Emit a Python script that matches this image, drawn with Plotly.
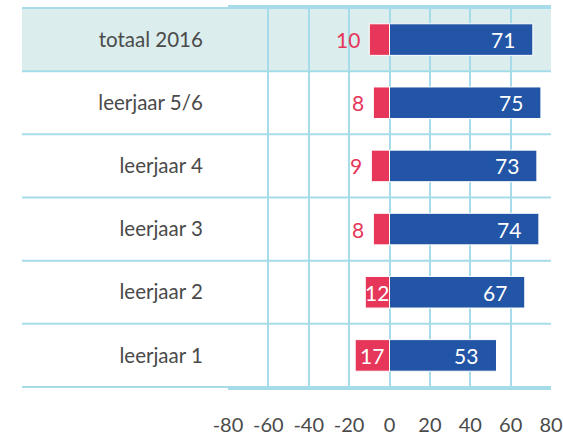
import plotly.graph_objects as go

categories = ["totaal 2016", "leerjaar 5/6", "leerjaar 4", "leerjaar 3", "leerjaar 2", "leerjaar 1"]
negative_values = [10, 8, 9, 8, 12, 17]
positive_values = [71, 75, 73, 74, 67, 53]
tick_values = [-80, -60, -40, -20, 0, 20, 40, 60, 80]
tick_labels = ["-80", "-60", "-40", "-20", "0", "20", "40", "60", "80"]
inside_threshold = 12

RED = "#E6375A"
BLUE = "#2255A6"
GRID = "#A6DCEA"
TEAL = "#DBEDED"
TEXT = "#4A4A4A"
FONT = "Lato"

fig = go.Figure()
fig.add_trace(go.Bar(
    y=categories, x=[-v for v in negative_values], orientation="h",
    marker=dict(color=RED, line=dict(color="white", width=1)),
    width=0.5, hoverinfo="skip", showlegend=False,
))
fig.add_trace(go.Bar(
    y=categories, x=positive_values, orientation="h",
    marker=dict(color=BLUE, line=dict(color="white", width=1)),
    width=0.5, hoverinfo="skip", showlegend=False,
))

annotations = []
for cat, v in zip(categories, positive_values):
    annotations.append(dict(x=v, y=cat, xref="x", yref="y", text=str(v),
                            xanchor="right", xshift=-16, showarrow=False,
                            font=dict(family=FONT, size=21, color="white")))
for cat, v in zip(categories, negative_values):
    if v >= inside_threshold:
        annotations.append(dict(x=-v / 2, y=cat, xref="x", yref="y", text=str(v),
                                xanchor="center", showarrow=False,
                                font=dict(family=FONT, size=21, color="white")))
    else:
        annotations.append(dict(x=-v, y=cat, xref="x", yref="y", text=str(v),
                                xanchor="right", xshift=-7, showarrow=False,
                                font=dict(family=FONT, size=21, color=RED)))

# left extension of rows in paper coords
left_paper = (22 - 228) / (551 - 228)
n = len(categories)
shapes = [dict(type="rect", xref="paper", yref="y", x0=left_paper, x1=1,
               y0=-0.5, y1=0.5, fillcolor=TEAL, line=dict(width=0), layer="below")]
for i in range(n + 1):
    shapes.append(dict(type="line", xref="paper", yref="y", x0=left_paper, x1=1,
                       y0=i - 0.5, y1=i - 0.5, line=dict(color=GRID, width=2), layer="below"))

fig.update_layout(
    width=563, height=435,
    margin=dict(l=228, r=12, t=7, b=47),
    paper_bgcolor="white", plot_bgcolor="rgba(0,0,0,0)",
    barmode="relative", bargap=0.5,
    font=dict(family=FONT, color=TEXT, size=18),
    annotations=annotations, shapes=shapes,
    xaxis=dict(range=[-80, 80], tickvals=tick_values, ticktext=tick_labels,
               automargin=False,
               showgrid=True, gridcolor=GRID, gridwidth=2,
               zeroline=True, zerolinecolor=GRID, zerolinewidth=2,
               showline=True, mirror=True, linecolor=GRID, linewidth=2,
               ticks="outside", ticklen=18, tickcolor="rgba(0,0,0,0)",
               tickfont=dict(family=FONT, size=20, color=TEXT), fixedrange=True),
    yaxis=dict(type="category", categoryorder="array", categoryarray=categories,
               autorange="reversed", showgrid=False, zeroline=False, automargin=False,
               showline=False, ticks="outside", ticklen=20, tickcolor="rgba(0,0,0,0)",
               tickfont=dict(family=FONT, size=20.5, color=TEXT), fixedrange=True),
)

fig.write_html("out.html", config={"displayModeBar": False},
               post_script="document.body.style.margin='0';")
